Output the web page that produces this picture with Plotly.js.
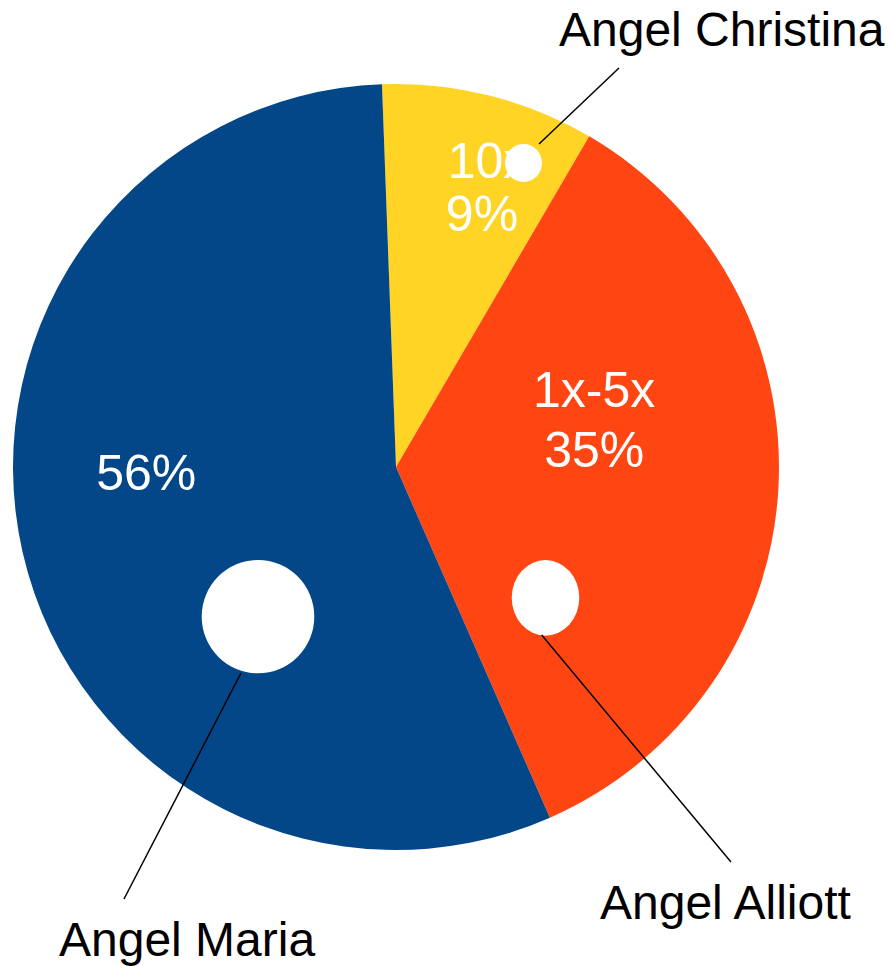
<!DOCTYPE html>
<html>
<head>
<meta charset="utf-8">
<script src="https://cdn.plot.ly/plotly-3.0.1.min.js"></script>
<style>html,body{margin:0;padding:0;background:#fff;}#chart{width:890px;height:966px;}</style>
</head>
<body>
<div id="chart"></div>
<script>
// Data
const people = ["Angel Christina", "Angel Alliott", "Angel Maria"];
const multiples = ["10x", "1x-5x", ""];
const shares = [9, 35, 56];
const sliceColors = ["#FFD424", "#FF4511", "#034788"];

const W = 890, H = 966;
const px = x => x / W;
const py = y => 1 - y / H;
const FONT = "Liberation Sans, Arial, sans-serif";

const total = shares.reduce((a, b) => a + b, 0);
const pctText = shares.map(v => Math.round(100 * v / total) + "%");

const trace = {
  type: "pie",
  labels: people,
  values: shares,
  textinfo: "none",
  sort: false,
  direction: "clockwise",
  rotation: -2.1,
  marker: { colors: sliceColors, line: { width: 0 } },
  hoverinfo: "none",
  domain: { x: [px(13), px(779)], y: [py(850), py(84)] }
};

// in-slice label placement (pixel centres): [multiple line, percent line]
const insidePos = [
  { m: [488, 156], p: [482, 208.5] },
  { m: [594.2, 385], p: [594.2, 445] },
  { m: null, p: [146.3, 467.5] }
];

// leader lines and outside label positions (pixel geometry)
const leaders = [
  { lx: 721.7, ly: 29.2, line: [619, 68, 539, 144], circ: [505, 144, 542, 182] },
  { lx: 725, ly: 902, line: [541.7, 635, 731, 862], circ: [511.7, 560, 579.3, 635.7] },
  { lx: 186.6, ly: 939, line: [241, 673, 124, 899], circ: [201.7, 560, 314.3, 673.3] }
];

const shapes = [];
const annotations = [];

function textShape(txt, c) {
  shapes.push({
    type: "rect", xref: "paper", yref: "paper", layer: "above",
    x0: px(c[0] - 1), x1: px(c[0] + 1), y0: py(c[1] + 1), y1: py(c[1] - 1),
    fillcolor: "rgba(0,0,0,0)", line: { width: 0 },
    label: { text: txt, textposition: "middle center", padding: 0,
             font: { size: 50, color: "#ffffff", family: FONT } }
  });
}

insidePos.forEach((d, i) => {
  if (d.m && multiples[i]) textShape(multiples[i], d.m);
  textShape(pctText[i], d.p);
});

leaders.forEach((d, i) => {
  shapes.push({
    type: "circle", xref: "paper", yref: "paper", layer: "above",
    x0: px(d.circ[0]), x1: px(d.circ[2]), y0: py(d.circ[3]), y1: py(d.circ[1]),
    fillcolor: "#ffffff", line: { width: 0 }
  });
  shapes.push({
    type: "line", xref: "paper", yref: "paper", layer: "above",
    x0: px(d.line[0]), y0: py(d.line[1]), x1: px(d.line[2]), y1: py(d.line[3]),
    line: { color: "#000000", width: 1.5 }
  });
  annotations.push({
    text: people[i], xref: "paper", yref: "paper",
    x: px(d.lx), y: py(d.ly), xanchor: "center", yanchor: "middle",
    showarrow: false,
    font: { size: 48, color: "#000000", family: FONT }
  });
});

const layout = {
  width: W, height: H,
  margin: { l: 0, r: 0, t: 0, b: 0 },
  paper_bgcolor: "#ffffff",
  showlegend: false,
  shapes: shapes,
  annotations: annotations
};

Plotly.newPlot("chart", [trace], layout, { staticPlot: true, displayModeBar: false });
</script>
</body>
</html>
